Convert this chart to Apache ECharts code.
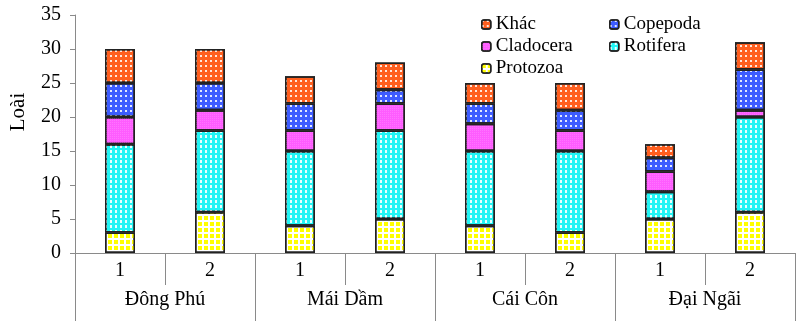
<!DOCTYPE html>
<html><head><meta charset="utf-8">
<script src="https://cdn.jsdelivr.net/npm/echarts@6/dist/echarts.min.js"></script>
<style>html,body{margin:0;padding:0;background:#fff}#c{width:800px;height:321px}</style>
</head><body><div id="c"></div>
<script>
const categories = ['1','2','1','2','1','2','1','2'];
const groups = ['Đông Phú','Mái Dầm','Cái Côn','Đại Ngãi'];
const protozoa  = [3, 6, 4, 5, 4, 3, 5, 6];
const rotifera  = [13,12,11,13,11,12, 4,14];
const cladocera = [4, 3, 3, 4, 4, 3, 3, 1];
const copepoda  = [5, 4, 4, 2, 3, 3, 2, 6];
const khac      = [5, 5, 4, 4, 3, 4, 2, 4];
const yTicks = [0,5,10,15,20,25,30,35];

const font = 'Liberation Serif';
const axisGray = '#8a8a8a';
const chart = echarts.init(document.getElementById('c'));
const border = {borderColor:'#222', borderWidth:1.5};
function s(name, data, color, decal){
  return {name, type:'bar', stack:'a', data, barWidth:30,
    itemStyle:Object.assign({color, decal:Object.assign({rotation:0}, decal)}, border)};
}
const legendCommon = {orient:'vertical', top:10, itemWidth:9, itemHeight:9, itemGap:3,
  itemStyle:{borderColor:'#222', borderWidth:1.5},
  textStyle:{fontFamily:font, fontSize:19, color:'#000'}};
chart.setOption({
  animation:false,
  aria:{enabled:true, decal:{show:true}},
  grid:{left:75, right:5, top:15, bottom:68, containLabel:false, outerBoundsMode:'none'},
  legend:[
    Object.assign({left:476, data:['Khác','Cladocera','Protozoa']}, legendCommon),
    Object.assign({left:604, data:['Copepoda','Rotifera']}, legendCommon)
  ],
  xAxis:[
    {type:'category', data:categories, position:'bottom',
     axisLine:{show:true, lineStyle:{color:axisGray, width:1}},
     axisTick:{show:true, interval:0, length:32, lineStyle:{color:axisGray}},
     axisLabel:{fontFamily:font, fontSize:20, color:'#000', margin:8, interval:0}},
    {type:'category', data:groups, position:'bottom',
     axisLine:{show:false},
     axisTick:{show:true, interval:0, length:68, lineStyle:{color:axisGray}},
     axisLabel:{fontFamily:font, fontSize:20, color:'#000', margin:37, interval:0}}
  ],
  yAxis:{type:'value', min:yTicks[0], max:yTicks[yTicks.length-1], interval:5,
    name:'Loài', nameLocation:'middle', nameGap:46, nameRotate:90,
    nameTextStyle:{fontFamily:font, fontSize:21, color:'#000', padding:[0,0,0,44]},
    axisLine:{show:true, lineStyle:{color:axisGray}},
    axisTick:{show:true, length:5, lineStyle:{color:axisGray}},
    splitLine:{show:false},
    axisLabel:{fontFamily:font, fontSize:20, color:'#000', margin:14}},
  series:[
    s('Protozoa', protozoa, '#ffffff',
      {symbol:'rect', symbolSize:1, color:'#ffff00', dashArrayX:[[3.5,1.5]], dashArrayY:[3.5,1.5]}),
    s('Rotifera', rotifera, '#22f5f5',
      {symbol:'rect', symbolSize:1, color:'rgba(255,255,255,0.9)', dashArrayX:[[2,3]], dashArrayY:[3,2]}),
    s('Cladocera', cladocera, '#ff5cff',
      {symbol:'rect', symbolSize:1, color:'rgba(255,140,255,0.5)', dashArrayX:[[1,1]], dashArrayY:[1,1]}),
    s('Copepoda', copepoda, '#3d5cff',
      {symbol:'rect', symbolSize:1, color:'rgba(255,255,255,0.85)', dashArrayX:[[2,2.5]], dashArrayY:[2,2.5]}),
    s('Khác', khac, '#ff5f1f',
      {symbol:'rect', symbolSize:1, color:'rgba(255,255,255,0.85)', dashArrayX:[[2,2.5]], dashArrayY:[2,2.5]})
  ]
});
</script></body></html>
